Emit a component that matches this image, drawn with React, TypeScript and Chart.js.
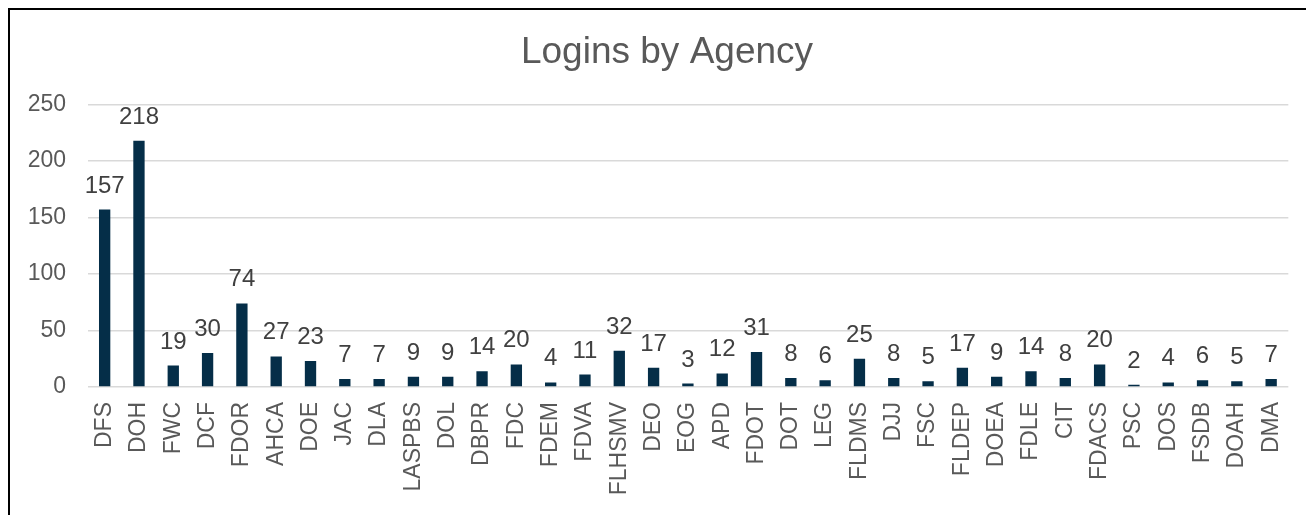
import React, { useEffect, useRef } from "react";
import { Chart, registerables } from "chart.js";

Chart.register(...registerables);

const chartTitle = "Logins by Agency";
const agencies = [
  "DFS", "DOH", "FWC", "DCF", "FDOR", "AHCA", "DOE", "JAC", "DLA", "LASPBS",
  "DOL", "DBPR", "FDC", "FDEM", "FDVA", "FLHSMV", "DEO", "EOG", "APD", "FDOT",
  "DOT", "LEG", "FLDMS", "DJJ", "FSC", "FLDEP", "DOEA", "FDLE", "CIT", "FDACS",
  "PSC", "DOS", "FSDB", "DOAH", "DMA",
];
const logins = [
  157, 218, 19, 30, 74, 27, 23, 7, 7, 9,
  9, 14, 20, 4, 11, 32, 17, 3, 12, 31,
  8, 6, 25, 8, 5, 17, 9, 14, 8, 20,
  2, 4, 6, 5, 7,
];
const yTicks = [0, 50, 100, 150, 200, 250];

const FONT = "'Liberation Sans', Arial, sans-serif";

const dataLabels = {
  id: "dataLabels",
  afterDatasetsDraw(chart: any) {
    const ctx = chart.ctx;
    const meta = chart.getDatasetMeta(0);
    ctx.save();
    ctx.font = `24px ${FONT}`;
    ctx.fillStyle = "#404040";
    ctx.textAlign = "center";
    ctx.textBaseline = "alphabetic";
    meta.data.forEach((bar: any, i: number) => {
      ctx.fillText(String(logins[i]), bar.x, bar.y - 17);
    });
    ctx.restore();
  },
};

const titlePlugin = {
  id: "offsetTitle",
  afterDraw(chart: any) {
    const ctx = chart.ctx;
    ctx.save();
    ctx.font = `37px ${FONT}`;
    ctx.fillStyle = "#595959";
    ctx.textAlign = "center";
    ctx.textBaseline = "middle";
    ctx.fillText(chartTitle, (chart.width + 10) / 2, 43);
    ctx.restore();
  },
};

export default function App() {
  const ref = useRef<HTMLCanvasElement>(null);
  useEffect(() => {
    if (!ref.current) return;
    const chart = new Chart(ref.current, {
      type: "bar",
      data: {
        labels: agencies,
        datasets: [
          {
            data: logins,
            backgroundColor: "#052E48",
            barPercentage: 0.33,
            categoryPercentage: 1,
          },
        ],
      },
      options: {
        animation: false,
        responsive: false,
        layout: { padding: { top: 94.5, right: 17, left: 0, bottom: 0 } },
        plugins: {
          legend: { display: false },
          tooltip: { enabled: false },
          title: { display: false },
        },
        scales: {
          x: {
            grid: { display: false, drawTicks: false },
            border: { display: false },
            ticks: {
              color: "#595959",
              font: { family: FONT, size: 23 },
              minRotation: 90,
              maxRotation: 90,
              autoSkip: false,
              padding: 15,
            },
            afterFit(scale: any) {
              scale.height = 128;
            },
          },
          y: {
            min: 0,
            max: 250,
            afterBuildTicks(scale: any) {
              scale.ticks = yTicks.map((v) => ({ value: v }));
            },
            grid: { color: "#D9D9D9", lineWidth: 1.5, drawTicks: false },
            border: { display: false },
            ticks: {
              color: "#595959",
              font: { family: FONT, size: 23 },
              padding: 21.5,
            },
            afterFit(scale: any) {
              scale.width = 77.5;
            },
          },
        },
      },
      plugins: [dataLabels, titlePlugin],
    });
    return () => chart.destroy();
  }, []);

  return (
    <div
      style={{
        width: 1304,
        height: 505,
        borderTop: "2px solid #000",
        borderLeft: "2px solid #000",
        overflow: "hidden",
      }}
    >
      <canvas ref={ref} width={1304} height={505} style={{ display: "block" }} />
    </div>
  );
}
